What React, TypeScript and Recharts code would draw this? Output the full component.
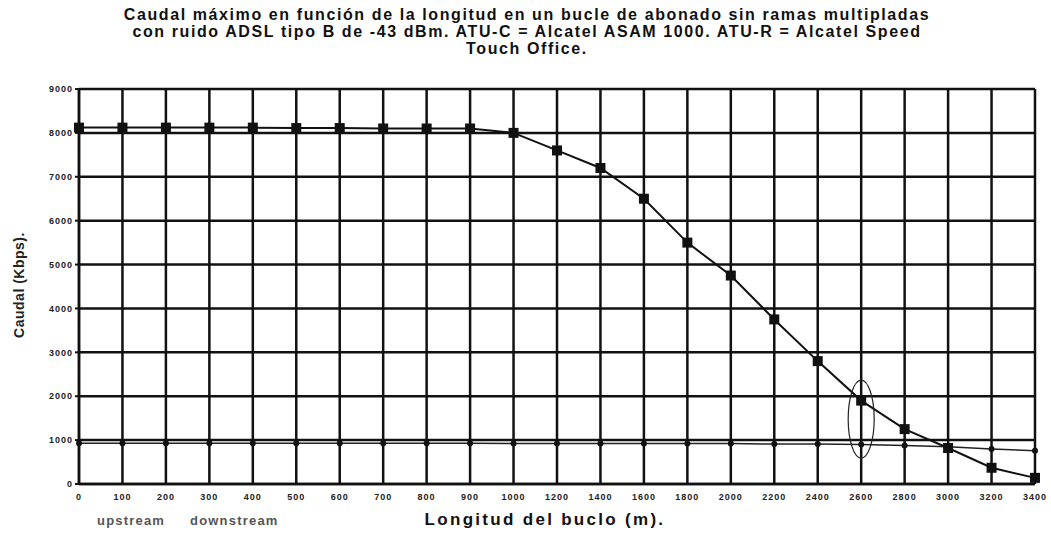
import React from "react";
import {
  LineChart,
  Line,
  XAxis,
  YAxis,
  CartesianGrid,
  ReferenceDot,
} from "recharts";

const lengths = [
  "0", "100", "200", "300", "400", "500", "600", "700", "800", "900", "1000",
  "1200", "1400", "1600", "1800", "2000", "2200", "2400", "2600", "2800",
  "3000", "3200", "3400",
];

const downstream = [
  8120, 8120, 8120, 8120, 8120, 8110, 8110, 8100, 8100, 8100, 8000,
  7600, 7200, 6500, 5500, 4750, 3750, 2800, 1900, 1250, 820, 370, 140,
];

const upstream = [
  930, 930, 930, 930, 930, 930, 930, 930, 930, 930, 920,
  920, 920, 920, 920, 920, 910, 910, 900, 880, 850, 800, 760,
];

const yTicks = [0, 1000, 2000, 3000, 4000, 5000, 6000, 7000, 8000, 9000];

const titleLines = [
  "Caudal máximo en función de la longitud en un bucle de abonado sin ramas multipladas",
  "con ruido ADSL tipo B de -43 dBm. ATU-C = Alcatel ASAM 1000. ATU-R = Alcatel Speed",
  "Touch Office.",
];

const data = lengths.map((len, i) => ({
  len,
  down: downstream[i],
  up: upstream[i],
}));

const font = "'Liberation Sans', Arial, sans-serif";

const tickStyle = {
  fontSize: 9,
  fontWeight: "bold",
  fill: "#222",
  fontFamily: font,
  style: { letterSpacing: "1px" },
};

function Square(props: any) {
  const { cx, cy } = props;
  if (cx == null || cy == null) return null;
  return <rect x={cx - 5} y={cy - 5} width={10} height={10} fill="#111" />;
}

function Dot(props: any) {
  const { cx, cy } = props;
  if (cx == null || cy == null) return null;
  return <circle cx={cx} cy={cy} r={3} fill="#111" />;
}

const legendText = {
  position: "absolute" as const,
  top: 513,
  fontSize: 13,
  fontWeight: "bold" as const,
  letterSpacing: "1.2px",
  color: "#555",
  whiteSpace: "nowrap" as const,
};

export default function App() {
  return (
    <div
      style={{
        position: "absolute",
        left: 0,
        top: 0,
        width: 1051,
        height: 534,
        background: "#fff",
        fontFamily: font,
      }}
    >
      <div
        style={{
          position: "absolute",
          top: 6,
          left: 0,
          width: 1054,
          textAlign: "center",
          fontWeight: "bold",
          fontSize: 16,
          letterSpacing: "1.6px",
          lineHeight: "17px",
          color: "#111",
        }}
      >
        {titleLines.map((t) => (
          <div key={t}>{t}</div>
        ))}
      </div>
      <LineChart
        width={1051}
        height={534}
        data={data}
        margin={{ top: 89, right: 16, bottom: 0, left: 0 }}
        style={{ position: "absolute", left: 0, top: 0 }}
      >
        <CartesianGrid stroke="#111" strokeWidth={2.5} />
        <XAxis
          dataKey="len"
          interval={0}
          height={50}
          axisLine={{ stroke: "#111", strokeWidth: 2.5 }}
          tickLine={false}
          tick={tickStyle}
          tickMargin={4}
        />
        <YAxis
          width={79}
          domain={[0, 9000]}
          ticks={yTicks}
          axisLine={{ stroke: "#111", strokeWidth: 2.5 }}
          tickLine={{ stroke: "#111", strokeWidth: 2 }}
          tickSize={4}
          tick={tickStyle}
        />
        <Line
          dataKey="up"
          stroke="#222"
          strokeWidth={1.5}
          dot={<Dot />}
          isAnimationActive={false}
        />
        <Line
          dataKey="down"
          stroke="#111"
          strokeWidth={2}
          dot={<Square />}
          isAnimationActive={false}
        />
        <ReferenceDot
          x="2600"
          y={1480}
          shape={(p: any) => (
            <ellipse
              cx={p.cx}
              cy={p.cy}
              rx={13}
              ry={39}
              fill="none"
              stroke="#222"
              strokeWidth={1.2}
            />
          )}
        />
      </LineChart>
      <div
        style={{
          position: "absolute",
          left: 4,
          top: 225,
          width: 30,
          height: 120,
          display: "flex",
          alignItems: "center",
          justifyContent: "center",
        }}
      >
        <div
          style={{
            transform: "rotate(-90deg)",
            whiteSpace: "nowrap",
            fontWeight: "bold",
            fontSize: 14,
            letterSpacing: "0.5px",
            color: "#222",
          }}
        >
          Caudal (Kbps).
        </div>
      </div>
      <div
        style={{
          position: "absolute",
          left: 0,
          top: 510,
          width: 1090,
          textAlign: "center",
          fontWeight: "bold",
          fontSize: 17,
          letterSpacing: "2.3px",
          color: "#111",
        }}
      >
        Longitud del buclo (m).
      </div>
      <div style={{ ...legendText, left: 97 }}>upstream</div>
      <div style={{ ...legendText, left: 190 }}>downstream</div>
    </div>
  );
}
